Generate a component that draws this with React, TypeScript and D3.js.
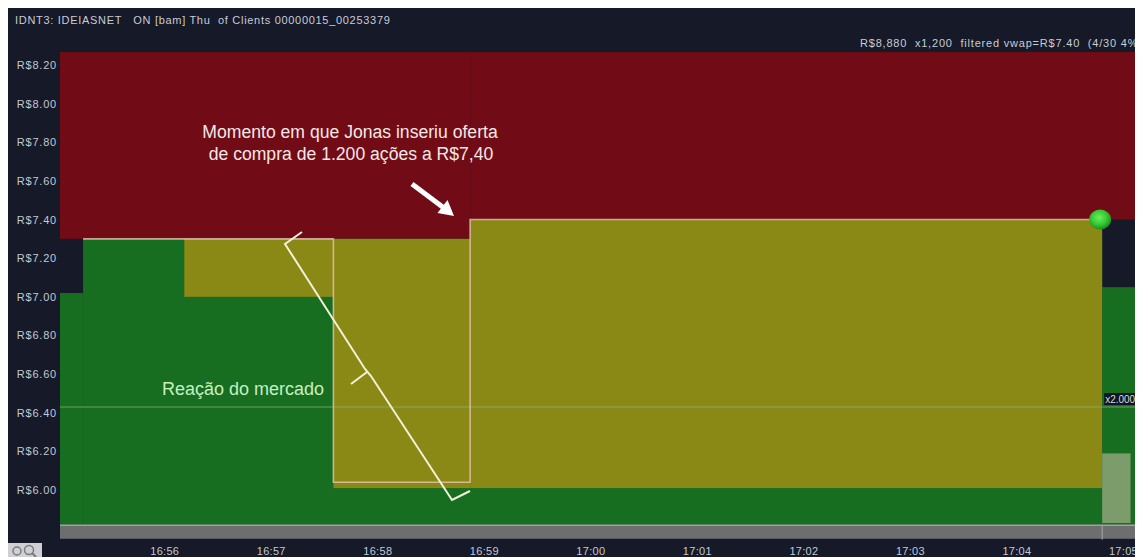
import React from "react";
import * as d3 from "d3";

// ---------- data ----------
const headerText = "IDNT3: IDEIASNET   ON [bam] Thu  of Clients 00000015_00253379";
const infoText = "R$8,880  x1,200  filtered vwap=R$7.40  (4/30 4%";

const timeStart = "16:55:01";
const timeEnd = "17:05:11";
const priceTicks = [8.2, 8.0, 7.8, 7.6, 7.4, 7.2, 7.0, 6.8, 6.6, 6.4, 6.2, 6.0];
const priceTop = 8.267;
const priceBottom = 5.82;

// best ask (bottom of red area) steps
const askTimes = ["16:55:01", "16:58:52"];
const askPrices = [7.3, 7.4];

// best bid depth (top of green area) steps
const bidTimes = ["16:55:01", "16:55:14", "17:04:48"];
const bidPrices = [7.02, 7.3, 7.05];

// own order band (olive)
const ownStart = ["16:56:11", "16:57:35", "16:58:52"];
const ownEnd = ["16:57:35", "16:58:52", "17:04:48"];
const ownTop = [7.3, 7.3, 7.4];
const ownBottom = [7.0, 6.01, 6.01];

// best bid line
const bestBidTimes = ["16:55:14", "16:57:35", "16:58:52", "17:04:48"];
const bestBidPrices = [7.3, 6.04, 7.4, 7.4];

// volume bar
const volStart = ["17:04:48"];
const volEnd = ["17:05:04"];
const volValues = [1200];
const volRef = 2000;
const volRefLabel = "x2.000";
const nowTime = "17:04:48";

const note1a = "Momento em que Jonas inseriu oferta";
const note1b = "de compra de 1.200 ações a R$7,40";
const note2 = "Reação do mercado";

// ---------- layout ----------
const W = 1143;
const H = 557;
const plotLeft = 60;
const plotRight = 1143;

const parse = d3.timeParse("%H:%M:%S");
const t = (s: string) => parse(s) as Date;

export default function App() {
  const x = d3.scaleTime().domain([t(timeStart), t(timeEnd)]).range([plotLeft, plotRight]);
  const y = d3.scaleLinear().domain([6.0, 8.2]).range([490, 65]);
  const v = d3.scaleLinear().domain([0, volRef]).range([523, 407]);
  const fmtPrice = (p: number) => "R$" + d3.format(".2f")(p);
  const fmtTime = d3.timeFormat("%H:%M");
  const xTicks = x.ticks(d3.timeMinute.every(1) as any);

  const askRects = askTimes.map((s, i) => {
    const x0 = x(t(s));
    const x1 = x(t(askTimes[i + 1] ?? timeEnd));
    return { x0, x1, y0: y(priceTop), y1: y(askPrices[i]) };
  });
  const bidRects = bidTimes.map((s, i) => {
    const x0 = x(t(s));
    const x1 = x(t(bidTimes[i + 1] ?? timeEnd));
    return { x0, x1, y0: y(bidPrices[i]), y1: y(priceBottom) };
  });
  const ownRects = ownStart.map((s, i) => ({
    x0: x(t(s)),
    x1: x(t(ownEnd[i])),
    y0: y(ownTop[i]),
    y1: y(ownBottom[i]),
  }));
  const bestLine = d3
    .line<number>()
    .x((_, i) => x(t(bestBidTimes[i])))
    .y((p) => y(p))
    .curve(d3.curveStepAfter)(bestBidPrices) as string;

  const nowX = x(t(nowTime));
  const bandTop = y(priceBottom);

  return (
    <>
      <style>{`html,body{overflow:hidden}`}</style>
      <svg
        width={W - 8}
        height={H - 8}
        viewBox={`8 8 ${W - 8} ${H - 8}`}
        style={{ display: "block" }}
        fontFamily="Arial, 'Liberation Sans', sans-serif"
      >
        <defs>
          <radialGradient id="dot" cx="45%" cy="40%" r="60%">
            <stop offset="0%" stopColor="#6cf060" />
            <stop offset="60%" stopColor="#36c832" />
            <stop offset="100%" stopColor="#1c8a1e" />
          </radialGradient>
        </defs>
        <rect x={0} y={0} width={W} height={H} fill="#151928" />

        <text x={15} y={24} fill="#c9ccd6" fontSize={11} letterSpacing={0.7} style={{ whiteSpace: "pre" }}>
          {headerText}
        </text>
        <text x={860} y={47} fill="#c9ccd6" fontSize={11} letterSpacing={0.8} style={{ whiteSpace: "pre" }}>
          {infoText}
        </text>

        {askRects.map((r, i) => (
          <rect key={"a" + i} x={r.x0} y={r.y0} width={r.x1 - r.x0} height={r.y1 - r.y0} fill="#710b15" />
        ))}
        {bidRects.map((r, i) => (
          <rect key={"b" + i} x={r.x0} y={r.y0} width={r.x1 - r.x0} height={r.y1 - r.y0} fill="#176e21" />
        ))}
        {ownRects.map((r, i) => (
          <rect key={"o" + i} x={r.x0} y={r.y0} width={r.x1 - r.x0} height={r.y1 - r.y0} fill="#8b8915" />
        ))}

        {volValues.map((val, i) => (
          <rect
            key={"v" + i}
            x={x(t(volStart[i]))}
            y={v(val)}
            width={x(t(volEnd[i])) - x(t(volStart[i]))}
            height={v(0) - v(val)}
            fill="#7c9c6c"
          />
        ))}

        {/* volume reference line */}
        <line x1={plotLeft} x2={plotRight} y1={v(volRef)} y2={v(volRef)} stroke="#8fb07c" strokeOpacity={0.75} strokeWidth={1.2} />
        <rect x={nowX + 2} y={v(volRef) - 14} width={40} height={12} fill="#111422" />
        <text x={nowX + 3} y={v(volRef) - 4.5} fill="#d8dcd8" fontSize={10}>
          {volRefLabel}
        </text>

        {/* best bid line */}
        <path d={bestLine} fill="none" stroke="#e6c6b0" strokeOpacity={0.8} strokeWidth={1.6} />

        {/* bottom band */}
        <rect x={plotLeft} y={bandTop} width={plotRight - plotLeft} height={14} fill="#6e6e70" />
        <line x1={plotLeft} x2={plotRight} y1={bandTop + 0.5} y2={bandTop + 0.5} stroke="#98a898" strokeWidth={1.5} />
        <line x1={nowX} x2={nowX} y1={bandTop} y2={bandTop + 15} stroke="#a8a8a8" strokeWidth={1} />

        {/* y axis labels */}
        {priceTicks.map((p) => (
          <text key={p} x={57} y={y(p) + 4} textAnchor="end" fill="#c4c8d2" fontSize={11} letterSpacing={0.8}>
            {fmtPrice(p)}
          </text>
        ))}

        {/* x axis labels */}
        {xTicks.map((d) => (
          <text key={+d} x={x(d)} y={555} textAnchor="middle" fill="#c4c8d2" fontSize={11} letterSpacing={0.3}>
            {fmtTime(d)}
          </text>
        ))}

        {/* zoom icon */}
        <rect x={8} y={543} width={34} height={14} fill="#cfd0d4" />
        <circle cx={17} cy={551} r={4} fill="none" stroke="#7a7a80" strokeWidth={1.5} />
        <circle cx={29} cy={550} r={4.5} fill="none" stroke="#7a7a80" strokeWidth={1.5} />
        <line x1={32} y1={553} x2={36} y2={557} stroke="#7a7a80" strokeWidth={2} />

        {/* current marker */}
        <ellipse cx={nowX - 2} cy={y(7.4)} rx={11} ry={10} fill="url(#dot)" />

        {/* annotations */}
        <text x={350} y={138} textAnchor="middle" fill="#f4e8e8" fontSize={17.6}>
          {note1a}
        </text>
        <text x={351} y={160} textAnchor="middle" fill="#f4e8e8" fontSize={17.6}>
          {note1b}
        </text>
        <line x1={412} y1={184} x2={444} y2={208} stroke="#ffffff" strokeWidth={5} />
        <polygon points="454,216 437.5,213 447.5,200" fill="#ffffff" />

        <path
          d="M302,232 L285,244 L365,369 L371,376 L452,500 L470,491"
          fill="none"
          stroke="#f2f2d8"
          strokeWidth={2}
          strokeLinejoin="miter"
        />
        <path d="M367,372 L351,384" fill="none" stroke="#f2f2d8" strokeWidth={2} />

        <text x={162} y={395} fill="#c8efc0" fontSize={18}>
          {note2}
        </text>
      </svg>
    </>
  );
}
